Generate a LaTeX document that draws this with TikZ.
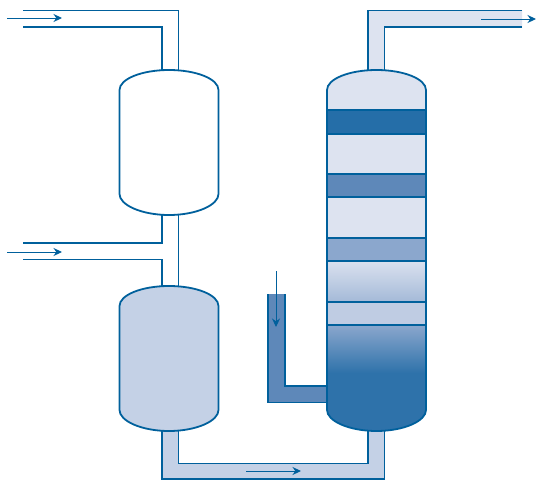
\documentclass[tikz,border=0pt]{standalone}
\usepackage{tikz}
\usetikzlibrary{arrows.meta}
\definecolor{pipeblue}{RGB}{0,96,156}
\definecolor{palefill}{RGB}{221,227,240}
\definecolor{softfill}{RGB}{196,209,230}
\definecolor{midfill}{RGB}{94,136,185}
\definecolor{darkfill}{RGB}{37,110,168}
\definecolor{sumpfill}{RGB}{46,114,170}
\definecolor{tintfill}{RGB}{139,167,205}
\definecolor{bandfill}{RGB}{191,204,227}
% outline of a vessel: left edge, top edge, height
\newcommand{\vesselpath}[3]{
  (#1,#2+20) .. controls (#1,#2+9) and (#1+22,#2) .. (#1+49.5,#2)
  .. controls (#1+77,#2) and (#1+99,#2+9) .. (#1+99,#2+20)
  -- (#1+99,#2+#3-21) .. controls (#1+99,#2+#3-10) and (#1+77,#2+#3) .. (#1+49.5,#2+#3)
  .. controls (#1+22,#2+#3) and (#1,#2+#3-10) .. (#1,#2+#3-21) -- cycle}
\begin{document}
\begin{tikzpicture}[x=1pt, y=-1pt,
    wall/.style={draw=pipeblue, line width=1.8pt},
    flow/.style={draw=pipeblue, line width=1pt, -{Stealth[length=8.5pt, width=8pt]}},
    band/.style={wall}
  ]
  \useasboundingbox (0,0) rectangle (536,480);

  % pipes
  \fill[palefill] (368,10.5) rectangle (522,27) (368,10.5) rectangle (384.5,72);
  \fill[softfill] (162,428) rectangle (178.5,479) (162,463.5) rectangle (384.5,479) (368,428) rectangle (384.5,479);
  \fill[midfill] (268,294) rectangle (285,402.5) (268,386) rectangle (330,402.5);

  \draw[wall] (23,10.5) -| (178.5,72);
  \draw[wall] (23,27) -| (162,72);
  \draw[wall] (23,243) -| (162,213);
  \draw[wall] (23,259.5) -| (162,288);
  \draw[wall] (178.5,213) -- (178.5,288);
  \draw[wall] (522,10.5) -| (368,72);
  \draw[wall] (522,27) -| (384.5,72);
  \draw[wall] (162,429) |- (384.5,479) -- (384.5,429);
  \draw[wall] (178.5,429) |- (368,463.5) -- (368,429);
  \draw[wall] (268,294) |- (328,402.5);
  \draw[wall] (285,294) |- (328,386);

  % vessels
  \path[wall, fill=white] \vesselpath{119.5}{70}{145};
  \path[wall, fill=softfill] \vesselpath{119.5}{286}{145};

  % column
  \fill[palefill] \vesselpath{327}{70}{361};
  \begin{scope}
    \clip \vesselpath{327}{70}{361};
    \fill[top color=palefill!90!softfill, bottom color=palefill!30!tintfill] (327,261) rectangle (426,302);
    \fill[top color=tintfill, bottom color=sumpfill] (327,325) rectangle (426,373);
    \fill[sumpfill] (327,372.5) rectangle (426,432);
  \end{scope}
  \path[band, fill=darkfill] (327,110) rectangle (426,134);
  \path[band, fill=midfill] (327,174) rectangle (426,197);
  \path[band, fill=tintfill] (327,238) rectangle (426,261);
  \path[band, fill=bandfill] (327,302) rectangle (426,325);
  \path[wall] \vesselpath{327}{70}{361};

  % flow arrows
  \coordinate (inA) at (7,18);
  \coordinate (inAend) at (62,18);
  \coordinate (inB) at (7,252);
  \coordinate (inBend) at (62,252);
  \coordinate (feed) at (276,271);
  \coordinate (feedend) at (276,327);
  \coordinate (link) at (246,471);
  \coordinate (linkend) at (301,471);
  \coordinate (out) at (481,19);
  \coordinate (outend) at (536,19);
  \draw[flow] (inA) -- (inAend);
  \draw[flow] (inB) -- (inBend);
  \draw[flow] (feed) -- (feedend);
  \draw[flow] (link) -- (linkend);
  \draw[flow] (out) -- (outend);
\end{tikzpicture}
\end{document}
